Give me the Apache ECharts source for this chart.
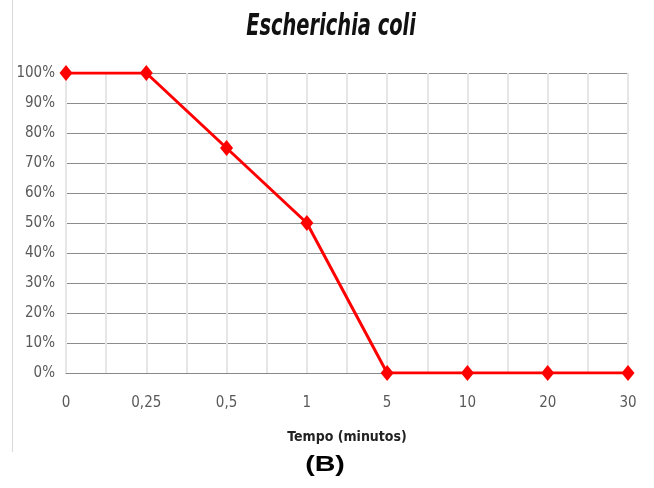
<!DOCTYPE html>
<html><head><meta charset="utf-8">
<script src="https://cdn.jsdelivr.net/npm/echarts@6/dist/echarts.min.js"></script>
<style>html,body{margin:0;padding:0;background:#fff}#c{width:654px;height:488px}</style>
</head><body><div id="c"></div>
<script>
const categories = ['0', '0,25', '0,5', '1', '5', '10', '20', '30'];
const survival = [100, 100, 75, 50, 0, 0, 0, 0];
const yTicks = [0, 10, 20, 30, 40, 50, 60, 70, 80, 90, 100];
const titleText = 'Escherichia coli';
const xName = 'Tempo (minutos)';
const panelLabel = '(B)';
const minorCats = [];
for (let i = 0; i < categories.length * 2 - 1; i++) minorCats.push('m' + i);

const narrow = '"Liberation Sans Narrow", "DejaVu Sans Condensed", "Liberation Sans", sans-serif';
const chart = echarts.init(document.getElementById('c'));
chart.setOption({
  animation: false,
  grid: { left: 66, right: 26, top: 73, bottom: 115 },
  xAxis: [{
    type: 'category', data: categories, boundaryGap: false,
    axisLine: { show: true, lineStyle: { color: '#888', width: 1 } },
    axisTick: { show: false },
    axisLabel: { color: '#595959', fontFamily: narrow, fontSize: 15, margin: 23 },
    splitLine: { show: true, lineStyle: { color: '#d0d0d0', width: 2 } },
    name: xName, nameLocation: 'middle', nameGap: 57,
    nameTextStyle: { fontFamily: narrow, fontSize: 14, fontWeight: 'bold', color: '#222' }
  }, {
    type: 'category', data: minorCats, boundaryGap: false, position: 'bottom',
    axisLine: { show: false }, axisTick: { show: false }, axisLabel: { show: false },
    splitLine: { show: true, lineStyle: { color: '#e6e6e6', width: 2 } }
  }],
  yAxis: {
    type: 'value', min: 0, max: 100, interval: 10,
    axisLine: { show: false }, axisTick: { show: false },
    axisLabel: { formatter: v => yTicks.includes(v) ? v + '%' : '', color: '#595959', fontFamily: narrow, fontSize: 15, margin: 11 },
    splitLine: { show: true, lineStyle: { color: '#8c8c8c', width: 1 } }
  },
  graphic: [
    { type: 'line', shape: { x1: 12.5, y1: 0, x2: 12.5, y2: 452 }, style: { stroke: '#d9d9d9', lineWidth: 1 } },
    { type: 'text', x: 331, y: 27, scaleX: 0.72, style: { text: titleText, textAlign: 'center', textVerticalAlign: 'middle', align: 'center', verticalAlign: 'middle', font: 'italic bold 30px "DejaVu Sans Condensed", "Liberation Sans Narrow", sans-serif', fill: '#111' } },
    { type: 'text', x: 325, y: 465, scaleX: 1.3, style: { text: panelLabel, textAlign: 'center', textVerticalAlign: 'middle', align: 'center', verticalAlign: 'middle', font: 'bold 22px "Liberation Sans", Arial, sans-serif', fill: '#000' } }
  ],
  series: [{
    type: 'line', data: survival, xAxisIndex: 0,
    lineStyle: { color: '#ff0000', width: 3 },
    itemStyle: { color: '#ff0000' },
    symbol: 'diamond', symbolSize: [13, 16], z: 5
  }]
});
</script></body></html>
